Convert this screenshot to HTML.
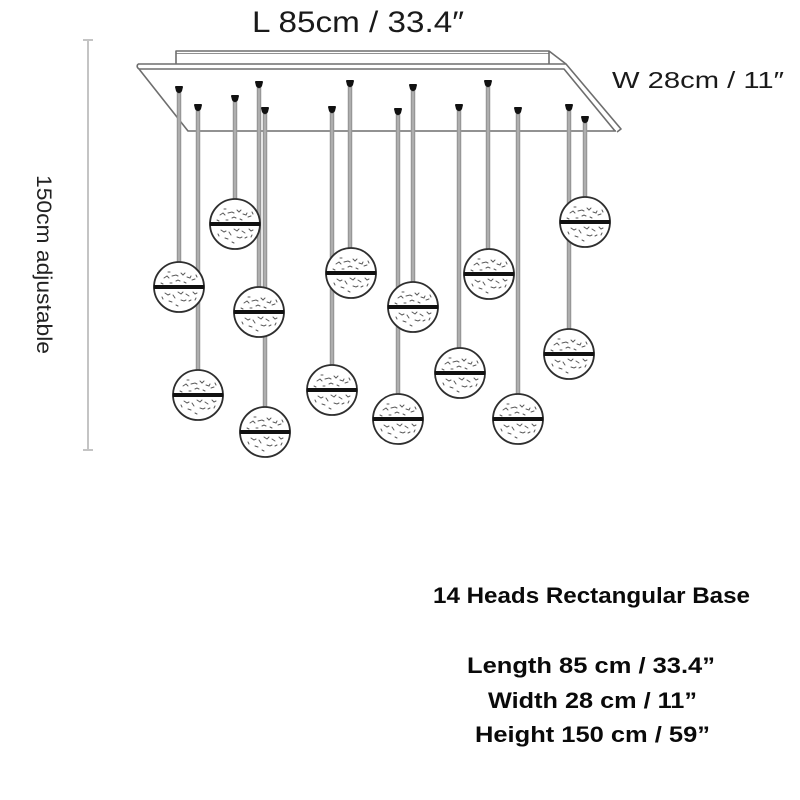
<!DOCTYPE html>
<html>
<head>
<meta charset="utf-8">
<style>
html,body{margin:0;padding:0;background:#fff;}
svg{display:block;}
</style>
</head>
<body>
<svg width="800" height="800" viewBox="0 0 800 800" xmlns="http://www.w3.org/2000/svg">
<defs>
  <g id="spk" fill="none" stroke="#5a5a5a" stroke-width="1" stroke-linecap="round">
    <path d="M-15,-9 l3,-2 l2,2"/>
    <path d="M-7,-11 l4,-1 l2,1"/>
    <path d="M2,-14 l2,2 l2,-2"/>
    <path d="M8,-10 l3,1 l1,-2"/>
    <path d="M-11,-15 l2,0"/>
    <path d="M13,-7 l3,-1"/>
    <path d="M-3,-6 l2,-1 l2,1"/>
    <path d="M5,-5 l2,1"/>
    <path d="M-18,-4 l2,1"/>
    <path d="M-14,6 l3,2 l2,-1"/>
    <path d="M-6,8 l2,3"/>
    <path d="M-1,5 l3,2 l2,-2"/>
    <path d="M7,7 l3,2"/>
    <path d="M14,5 l2,2 l2,-1"/>
    <path d="M-10,14 l3,1"/>
    <path d="M2,13 l3,1 l2,-1"/>
    <path d="M10,14 l2,-1"/>
    <path d="M-17,10 l1,2"/>
    <path d="M17,11 l-1,2"/>
    <path d="M-3,18 l2,1"/>
    <path d="M-9,-4 l2,0"/>
    <path d="M17,-12 l1,2"/>
  </g>
  <g id="cap">
    <path d="M-4,0 Q-4,-1 -3,-1 L3,-1 Q4,-1 4,0 L3,4 Q2,6 0,6 Q-2,6 -3,4 Z" fill="#111"/>
  </g>
  <g id="globe">
    <circle r="25" fill="#fff" stroke="#2e2e2e" stroke-width="1.8"/>
    <use href="#spk"/>
    <rect x="-25.5" y="-2" width="51" height="4" fill="#111"/>
  </g>
</defs>

<!-- height dimension line -->
<g stroke="#c4c4c4" stroke-width="2" fill="none">
  <line x1="88" y1="40" x2="88" y2="450"/>
  <line x1="83" y1="40" x2="93" y2="40"/>
  <line x1="83" y1="450" x2="93" y2="450"/>
</g>
<text transform="translate(37,175) rotate(90)" font-family="Liberation Sans, Arial, sans-serif" font-size="21" fill="#222" textLength="179" lengthAdjust="spacingAndGlyphs">150cm adjustable</text>

<!-- canopy -->
<g stroke="#6e6e6e" stroke-width="1.6" fill="none" stroke-linejoin="round">
  <path d="M176,64 L176,51 L549,51 L566,64"/>
  <line x1="176" y1="53.5" x2="549" y2="53.5" stroke-width="0.8"/>
  <line x1="549" y1="51" x2="549" y2="64"/>
  <path d="M138,64 L566,64 L621,129 L617,132"/>
  <path d="M139,69 L564,69 L615,131"/>
  <path d="M138,64 Q136,67 139,69 L188,131 L616,131"/>
</g>

<!-- cords -->
<g stroke="#979797" stroke-width="4.5">
  <line x1="179" y1="92" x2="179" y2="265"/>
  <line x1="198" y1="110" x2="198" y2="372"/>
  <line x1="235" y1="101" x2="235" y2="202"/>
  <line x1="259" y1="87" x2="259" y2="290"/>
  <line x1="265" y1="113" x2="265" y2="410"/>
  <line x1="332" y1="112" x2="332" y2="368"/>
  <line x1="350" y1="86" x2="350" y2="251"/>
  <line x1="398" y1="114" x2="398" y2="397"/>
  <line x1="413" y1="90" x2="413" y2="285"/>
  <line x1="459" y1="110" x2="459" y2="351"/>
  <line x1="488" y1="86" x2="488" y2="252"/>
  <line x1="518" y1="113" x2="518" y2="397"/>
  <line x1="569" y1="110" x2="569" y2="332"/>
  <line x1="585" y1="122" x2="585" y2="200"/>
</g>
<g stroke="#bdbdbd" stroke-width="1.2">
  <line x1="179" y1="94" x2="179" y2="265"/>
  <line x1="198" y1="112" x2="198" y2="372"/>
  <line x1="235" y1="103" x2="235" y2="202"/>
  <line x1="259" y1="89" x2="259" y2="290"/>
  <line x1="265" y1="115" x2="265" y2="410"/>
  <line x1="332" y1="114" x2="332" y2="368"/>
  <line x1="350" y1="88" x2="350" y2="251"/>
  <line x1="398" y1="116" x2="398" y2="397"/>
  <line x1="413" y1="92" x2="413" y2="285"/>
  <line x1="459" y1="112" x2="459" y2="351"/>
  <line x1="488" y1="88" x2="488" y2="252"/>
  <line x1="518" y1="115" x2="518" y2="397"/>
  <line x1="569" y1="112" x2="569" y2="332"/>
  <line x1="585" y1="124" x2="585" y2="200"/>
</g>

<!-- caps -->
<use href="#cap" x="179" y="87"/>
<use href="#cap" x="198" y="105"/>
<use href="#cap" x="235" y="96"/>
<use href="#cap" x="259" y="82"/>
<use href="#cap" x="265" y="108"/>
<use href="#cap" x="332" y="107"/>
<use href="#cap" x="350" y="81"/>
<use href="#cap" x="398" y="109"/>
<use href="#cap" x="413" y="85"/>
<use href="#cap" x="459" y="105"/>
<use href="#cap" x="488" y="81"/>
<use href="#cap" x="518" y="108"/>
<use href="#cap" x="569" y="105"/>
<use href="#cap" x="585" y="117"/>

<!-- globes -->
<use href="#globe" x="235" y="224"/>
<use href="#globe" x="585" y="222"/>
<use href="#globe" x="351" y="273"/>
<use href="#globe" x="489" y="274"/>
<use href="#globe" x="179" y="287"/>
<use href="#globe" x="413" y="307"/>
<use href="#globe" x="259" y="312"/>
<use href="#globe" x="569" y="354"/>
<use href="#globe" x="460" y="373"/>
<use href="#globe" x="332" y="390"/>
<use href="#globe" x="198" y="395"/>
<use href="#globe" x="398" y="419"/>
<use href="#globe" x="518" y="419"/>
<use href="#globe" x="265" y="432"/>

<!-- dimension texts -->
<text x="252" y="32" font-family="Liberation Sans, DejaVu Sans, sans-serif" font-size="30" fill="#1a1a1a" textLength="212" lengthAdjust="spacingAndGlyphs">L 85cm / 33.4″</text>
<text x="612" y="88" font-family="Liberation Sans, DejaVu Sans, sans-serif" font-size="23" fill="#1a1a1a" textLength="172" lengthAdjust="spacingAndGlyphs">W 28cm / 11″</text>

<!-- spec text -->
<g font-family="Liberation Sans, Arial, sans-serif" font-weight="bold" font-size="22" fill="#0a0a0a">
  <text x="433" y="603" textLength="317" lengthAdjust="spacingAndGlyphs">14 Heads Rectangular Base</text>
  <text x="467" y="673" textLength="248" lengthAdjust="spacingAndGlyphs">Length 85 cm / 33.4”</text>
  <text x="488" y="708" textLength="209" lengthAdjust="spacingAndGlyphs">Width 28 cm / 11”</text>
  <text x="475" y="742" textLength="235" lengthAdjust="spacingAndGlyphs">Height 150 cm / 59”</text>
</g>
</svg>
</body>
</html>
